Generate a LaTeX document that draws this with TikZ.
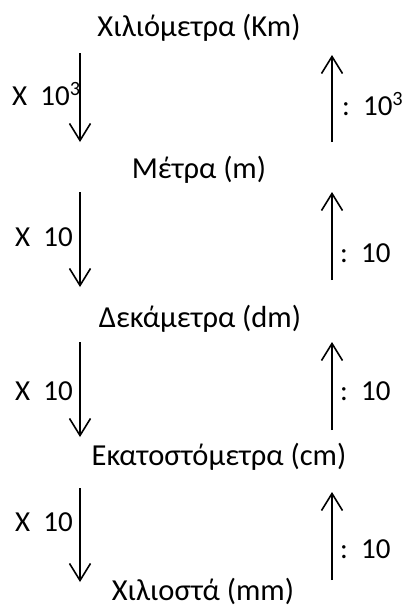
\documentclass[tikz,border=0pt]{standalone}
\usepackage{fontspec}
\setmainfont{Carlito}
\usetikzlibrary{arrows.meta}
\begin{document}
\begin{tikzpicture}[x=1pt, y=-1pt,
	unit/.style={font=\fontsize{30.5}{36}\selectfont, anchor=base, inner sep=0pt},
	factor/.style={font=\fontsize{29}{34}\selectfont, anchor=base west, inner sep=0pt},
	conv/.style={line width=1.6pt, -{Straight Barb[length=17pt, width=21pt, line width=1.6pt]}}]

	\useasboundingbox (0,0) rectangle (406,611);

	\node[unit] (km) at (199,36) {Χιλιόμετρα (Km)};
	\node[unit] (m) at (199,178) {Μέτρα (m)};
	\node[unit] (dm) at (200,327) {Δεκάμετρα (dm)};
	\node[unit] (cm) at (219,465) {Εκατοστόμετρα (cm)};
	\node[unit] (mm) at (203,600) {Χιλιοστά (mm)};

	\coordinate (d1s) at (80,53);
\coordinate (d1e) at (80,142);
\coordinate (d2s) at (80,192);
\coordinate (d2e) at (80,287);
\coordinate (d3s) at (80,342);
\coordinate (d3e) at (80,437);
\coordinate (d4s) at (80,488);
\coordinate (d4e) at (80,582);
\coordinate (u1s) at (332,142);
\coordinate (u1e) at (332,55);
\coordinate (u2s) at (332,280);
\coordinate (u2e) at (332,192);
\coordinate (u3s) at (332,430);
\coordinate (u3e) at (332,342);
\coordinate (u4s) at (332,580);
\coordinate (u4e) at (332,492);

	\draw[conv] (d1s) -- (d1e);
\draw[conv] (d2s) -- (d2e);
\draw[conv] (d3s) -- (d3e);
\draw[conv] (d4s) -- (d4e);
\draw[conv] (u1s) -- (u1e);
\draw[conv] (u2s) -- (u2e);
\draw[conv] (u3s) -- (u3e);
\draw[conv] (u4s) -- (u4e);

	\node[factor] (times1) at (12,105) {X\ \ 10\textsuperscript{3}};
	\node[factor] (times2) at (15,246) {X\ \ 10};
	\node[factor] (times3) at (15,400) {X\ \ 10};
	\node[factor] (times4) at (15,531) {X\ \ 10};
	\node[factor] (div1) at (342,115) {:\ \ 10\textsuperscript{3}};
	\node[factor] (div2) at (340,262) {:\ \ 10};
	\node[factor] (div3) at (340,400) {:\ \ 10};
	\node[factor] (div4) at (340,558) {:\ \ 10};

\end{tikzpicture}
\end{document}
